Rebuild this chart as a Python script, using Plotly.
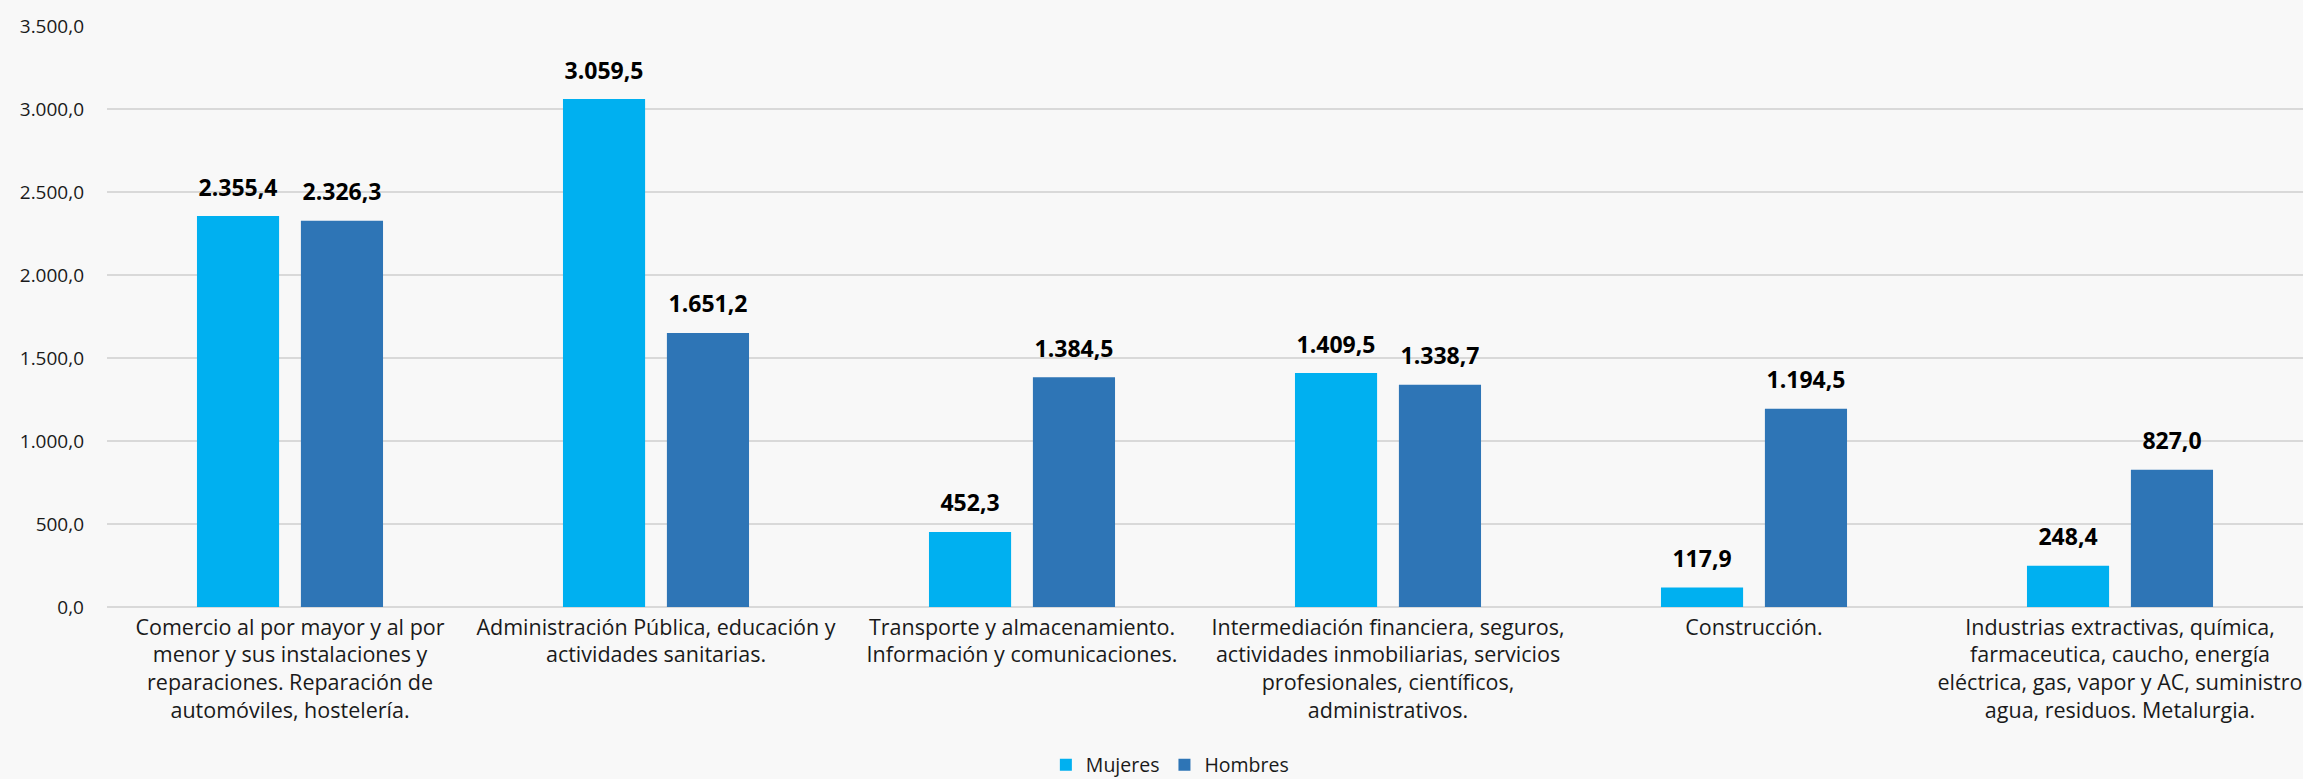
import plotly.graph_objects as go

categories = [
    "Comercio al por mayor y al por<br>menor y sus instalaciones y<br>reparaciones. Reparación de<br>automóviles, hostelería.",
    "Administración Pública, educación y<br>actividades sanitarias.",
    "Transporte y almacenamiento.<br>Información y comunicaciones.",
    "Intermediación financiera, seguros,<br>actividades inmobiliarias, servicios<br>profesionales, científicos,<br>administrativos.",
    "Construcción.",
    "Industrias extractivas, química,<br>farmaceutica, caucho, energía<br>eléctrica, gas, vapor y AC, suministro<br>agua, residuos. Metalurgia.",
]
mujeres = [2355.4, 3059.5, 452.3, 1409.5, 117.9, 248.4]
hombres = [2326.3, 1651.2, 1384.5, 1338.7, 1194.5, 827.0]
y_ticks = [0, 500, 1000, 1500, 2000, 2500, 3000, 3500]

FONT = "Open Sans"
TXT = "#1a1a1a"

fig = go.Figure()
series = [("Mujeres", mujeres, "#00B0F0"), ("Hombres", hombres, "#2E75B6")]
for name, vals, col in series:
    fig.add_trace(go.Bar(
        name=name, x=categories, y=vals, marker_color=col, marker_line_width=0,
        offsetgroup=name, hoverinfo="x+y",
    ))
for name, vals, col in series:
    fig.add_trace(go.Scatter(
        x=categories, y=vals, mode="markers+text", offsetgroup=name,
        text=[f"{v:,.1f}".replace(",", "X").replace(".", ",").replace("X", ".") for v in vals],
        texttemplate="<b>%{text}</b>", textposition="top center",
        marker=dict(size=22, opacity=0), showlegend=False, hoverinfo="skip",
        textfont=dict(size=23, color="#000000", family=FONT), cliponaxis=False,
    ))

fig.update_layout(
    width=2303, height=779,
    separators=",.",
    paper_bgcolor="#F8F8F8", plot_bgcolor="#F8F8F8",
    margin=dict(l=107, r=0, t=26, b=172, autoexpand=False),
    barmode="group", bargap=0.432, bargroupgap=0.21, scattermode="group",
    font=dict(family=FONT, size=21, color=TXT),
    showlegend=True,
    legend=dict(orientation="h", x=0.484, xanchor="center", y=-0.272, yanchor="middle",
                font=dict(size=19.5, family=FONT, color=TXT), bgcolor="rgba(0,0,0,0)"),
    xaxis=dict(showgrid=False, showline=False, automargin=False,
               tickfont=dict(size=21.5, family=FONT, color=TXT), ticks="", ticklabelstandoff=5),
    yaxis=dict(range=[0, 3500], tickvals=y_ticks, tickformat=",.1f", showgrid=True, automargin=False,
               gridcolor="#D9D9D9", gridwidth=2, zeroline=True, zerolinecolor="#D9D9D9",
               zerolinewidth=2, tickfont=dict(size=19, family=FONT, color=TXT),
               ticks="", ticklabelstandoff=22),
)

fig.write_html("out.html", config={"displayModeBar": False},
               post_script="document.body.style.margin='0';")
